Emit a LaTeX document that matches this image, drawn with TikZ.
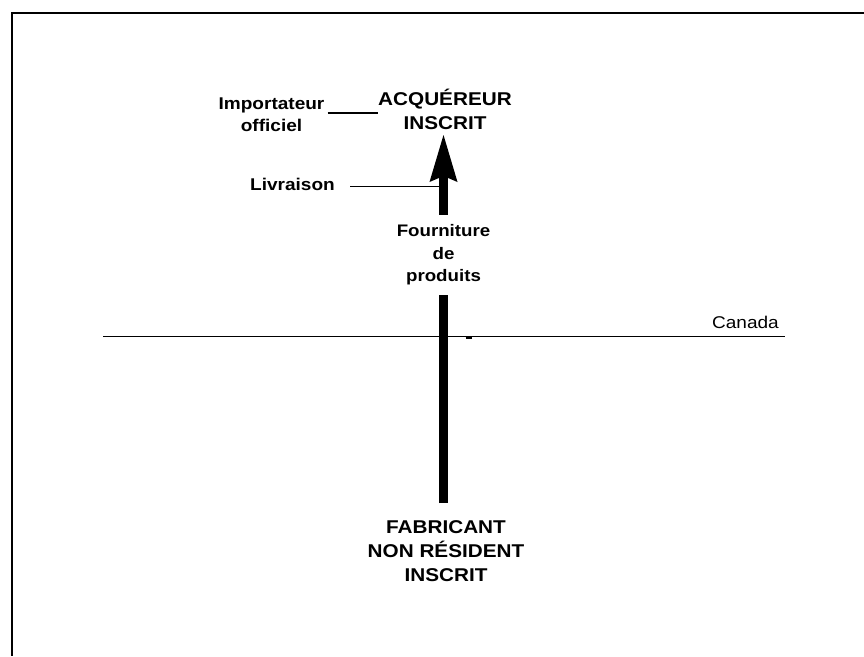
\documentclass[tikz,border=0pt]{standalone}
\usepackage{fontspec}
\setmainfont{Liberation Sans}[FakeStretch=1.12]
\usetikzlibrary{arrows.meta}
\tikzset{
  head/.style={font=\fontsize{18.5}{24}\selectfont\bfseries, align=center, inner sep=0pt},
  lbl/.style={font=\fontsize{17}{21.6}\selectfont\bfseries, align=center, inner sep=0pt},
  thin/.style={line width=1.1pt, black},
  frame/.style={line width=2pt, black},
  bigarrow/.style={line width=8.5pt, -{Stealth[length=47pt 0 0, width=28pt 0 0, inset=6pt 0, line width=0pt]}},
}
\begin{document}
\begin{tikzpicture}[x=1pt, y=1pt]
\useasboundingbox (0,0) rectangle (864,-656);
% frame
\coordinate (fc) at (11.7,-13.3);
\coordinate (fr) at (864,-13.3);
\coordinate (fb) at (11.7,-656);
\draw[frame] (fr) -- (fc) -- (fb);

% Canada line
\coordinate (cl) at (103,-336.7);
\coordinate (cr) at (785,-336.7);
\draw[thin] (cl) -- (cr);
\node[font=\fontsize{17}{20}\selectfont, anchor=base east, inner sep=0pt] (can) at (779,-328) {Canada};
\coordinate (d1) at (465.5,-338);
\coordinate (d2) at (471.5,-338);
\draw[line width=1.4pt] (d1) -- (d2);

% nodes
\node[head] (acq) at (445,-109) {ACQUÉREUR\\INSCRIT};
\node[head] (fab) at (446,-551) {FABRICANT\\NON RÉSIDENT\\INSCRIT};
\node[lbl, inner xsep=3pt] (imp) at (271.5,-114.7) {Importateur\\officiel};
\node[lbl, anchor=base, inner xsep=15pt] (liv) at (292.5,-190) {Livraison};

% main arrow
\coordinate (abot) at (443.5,-503);
\coordinate (atop) at (443.5,-135);
\draw[bigarrow] (abot) -- (atop);
\node[font=\fontsize{16.7}{22.5}\selectfont\bfseries, align=center, fill=white, inner xsep=2pt, inner ysep=10pt] (four) at (443.5,-255) {Fourniture\\de\\produits};

% leader lines
\draw[thin] ([yshift=1.7pt]imp.east) coordinate (l1) -- (l1 -| acq.west);
\draw[thin] ([yshift=-2.8pt]liv.east) coordinate (l2) -- (l2 -| abot);
\end{tikzpicture}
\end{document}
